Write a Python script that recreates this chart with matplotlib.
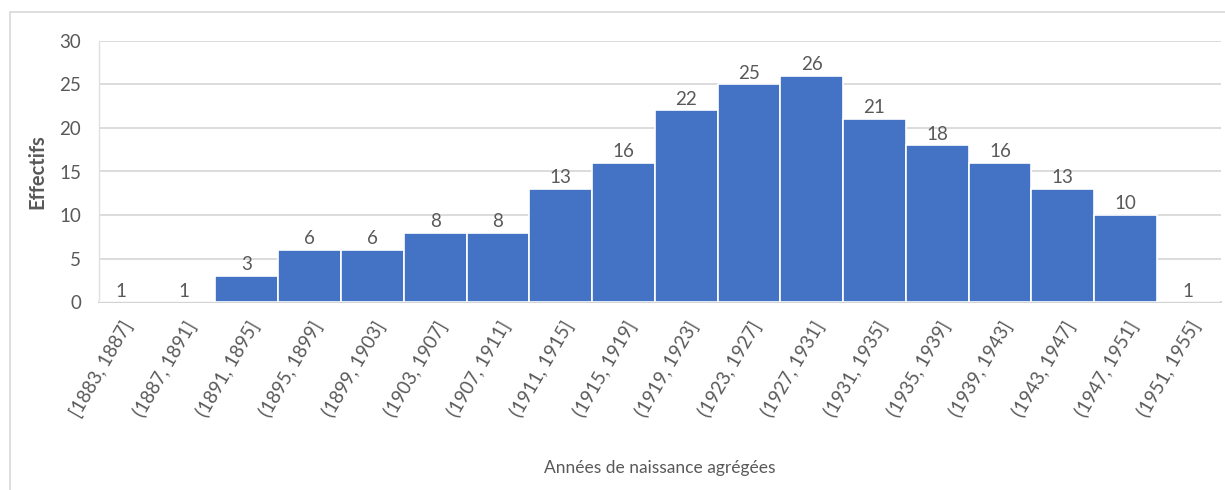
import matplotlib
matplotlib.use("Agg")
import matplotlib.pyplot as plt
from matplotlib.patches import Rectangle
import numpy as np

# ---- data ----
bins = ["[1883, 1887]", "(1887, 1891]", "(1891, 1895]", "(1895, 1899]",
        "(1899, 1903]", "(1903, 1907]", "(1907, 1911]", "(1911, 1915]",
        "(1915, 1919]", "(1919, 1923]", "(1923, 1927]", "(1927, 1931]",
        "(1931, 1935]", "(1935, 1939]", "(1939, 1943]", "(1943, 1947]",
        "(1947, 1951]", "(1951, 1955]"]
counts = [1, 1, 3, 6, 6, 8, 8, 13, 16, 22, 25, 26, 21, 18, 16, 13, 10, 1]
# bins whose bar is not rendered in the reference (only the label shows)
bar_rendered = [False, False] + [True] * 15 + [False]

plt.rcParams['font.family'] = ['Lato', 'DejaVu Sans']

W, H = 1225, 490
fig = plt.figure(figsize=(W / 100, H / 100), dpi=100)
ax = fig.add_axes([99 / W, 1 - 302.3 / H, (1221 - 99) / W, (302.3 - 40.7) / H])

# outer chart frame (cropped at right/bottom)
fig.patches.append(Rectangle((10 / W, -0.1), 1.2, 1 - 12.5 / H + 0.1,
                             transform=fig.transFigure, fill=False,
                             edgecolor="#d9d9d9", linewidth=1.2, zorder=0))

x = np.arange(len(bins))
heights = np.where(bar_rendered, counts, 0)
ax.bar(x, heights, width=1.0, color="#4472C4", edgecolor="white",
       linewidth=1.2, zorder=3)

for xi, h, c in zip(x, heights, counts):
    ax.annotate(str(c), (xi, h), xytext=(0, 2), textcoords="offset points",
                ha="center", va="bottom", fontsize=13.5, color="#595959",
                zorder=4)

ax.set_xlim(-0.355, 17.52)
ax.set_ylim(0, 30)
ax.set_yticks(range(0, 31, 5))
ax.yaxis.grid(True, color="#d9d9d9", linewidth=1.3, zorder=0)
ax.set_axisbelow(True)

for s in ["top", "right"]:
    ax.spines[s].set_visible(False)
ax.spines["left"].set_color("#e0e0e0")
ax.spines["left"].set_linewidth(1.0)
ax.spines["bottom"].set_color("#d0d0d0")
ax.spines["bottom"].set_linewidth(1.3)

ax.set_xticks(x)
ax.set_xticklabels(bins, rotation=60, ha="right", rotation_mode="anchor",
                   fontsize=13.5, color="#595959")
ax.tick_params(axis="x", length=0, pad=11)
ax.tick_params(axis="y", length=0, pad=13, labelsize=13.5, labelcolor="#595959")

ax.set_ylabel("Effectifs", fontsize=14.5, fontweight="bold", color="#595959",
              labelpad=8)
fig.text(660 / W, 1 - 468 / H, "Années de naissance agrégées", ha="center",
         va="center", fontsize=12.5, color="#595959")

fig.savefig("out.png", dpi=100, facecolor="white")
